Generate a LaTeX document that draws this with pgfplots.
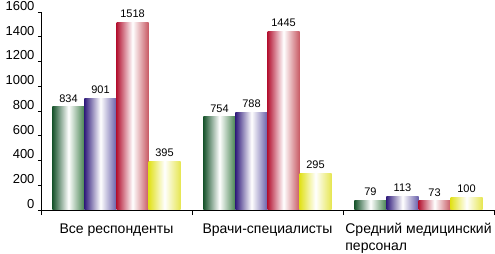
\documentclass[border=0pt]{standalone}
\usepackage{fontspec}
\setmainfont{Liberation Sans}
\usepackage{pgfplots}
\pgfplotsset{compat=1.18}
\definecolor{gL}{RGB}{25,85,45}
\definecolor{gR}{RGB}{70,130,80}
\definecolor{bL}{RGB}{50,30,125}
\definecolor{bR}{RGB}{105,95,170}
\definecolor{rL}{RGB}{180,20,50}
\definecolor{rR}{RGB}{200,90,100}
\definecolor{yL}{RGB}{225,225,25}
\definecolor{yR}{RGB}{230,230,80}
\pgfplotsset{
  cbar/.style={ybar, bar width=0.212, bar shift=0, draw=none, middle color=white},
  gbar/.style={cbar, left color=gL, right color=gR, middle color=white},
  bbar/.style={cbar, left color=bL, right color=bR, middle color=white},
  rbar/.style={cbar, left color=rL, right color=rR, middle color=white},
  ybarc/.style={cbar, left color=yL, right color=yR, middle color=white},
}
\begin{document}
\begin{tikzpicture}
\useasboundingbox (-41pt,-44pt) rectangle (454pt,210pt);
\begin{axis}[
  at={(0,0)}, anchor=south west,
  scale only axis, width=453pt, height=198pt,
  xmin=-0.5, xmax=2.5, ymin=0, ymax=1600,
  axis x line*=bottom, axis y line*=left,
  axis line style={black, line width=0.8pt},
  ytick={0,200,...,1600},
  xtick={0,1,2},
  xticklabels={Все респонденты, Врачи-специалисты, {Средний медицинский\\персонал}},
  xticklabel style={align=left, anchor=north, font=\fontsize{14}{17}\selectfont, yshift=-7pt},
  yticklabel style={font=\fontsize{13}{14}\selectfont, yshift=6pt},
  /pgf/number format/assume math mode=true,
  /pgf/number format/1000 sep={},
  x tick style={draw=none},
  y tick style={black, line width=0.6pt},
  major tick length=3pt,
  tick align=outside,
  extra x ticks={-0.5,0.5,1.5,2.5},
  extra x tick labels={},
  extra x tick style={x tick style={draw=black, line width=0.6pt}, major tick length=5pt},
  nodes near coords,
  every node near coord/.append style={font=\fontsize{11}{12}\selectfont, black, yshift=1pt},
  clip=false,
]
% green series: 834, 754, 79
\addplot[gbar] coordinates {(-0.318,834)};
\addplot[gbar] coordinates {(0.682,754)};
\addplot[gbar] coordinates {(1.682,79)};
% blue series: 901, 788, 113
\addplot[bbar] coordinates {(-0.106,901)};
\addplot[bbar] coordinates {(0.894,788)};
\addplot[bbar] coordinates {(1.894,113)};
% red series: 1518, 1445, 73
\addplot[rbar] coordinates {(0.106,1518)};
\addplot[rbar] coordinates {(1.106,1445)};
\addplot[rbar] coordinates {(2.106,73)};
% yellow series: 395, 295, 100
\addplot[ybarc] coordinates {(0.318,395)};
\addplot[ybarc] coordinates {(1.318,295)};
\addplot[ybarc] coordinates {(2.318,100)};
\end{axis}
\end{tikzpicture}
\end{document}
